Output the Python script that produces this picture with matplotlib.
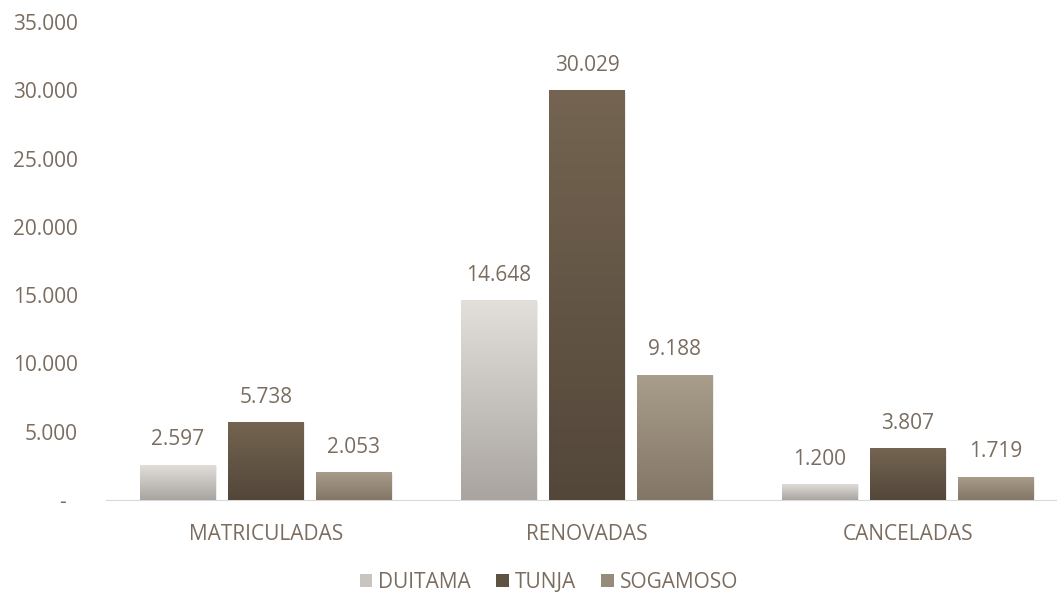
import numpy as np
import matplotlib.pyplot as plt
from matplotlib.colors import LinearSegmentedColormap
from matplotlib.patches import Patch
from matplotlib.ticker import FuncFormatter

categories = ['MATRICULADAS', 'RENOVADAS', 'CANCELADAS']
series = ['DUITAMA', 'TUNJA', 'SOGAMOSO']
duitama = [2597, 14648, 1200]
tunja = [5738, 30029, 3807]
sogamoso = [2053, 9188, 1719]
yticks = [0, 5000, 10000, 15000, 20000, 25000, 30000, 35000]

# top / bottom gradient colours per series
grad = {
    'DUITAMA': ('#E3E0DC', '#A9A4A0'),
    'TUNJA': ('#746451', '#53473A'),
    'SOGAMOSO': ('#A99D8C', '#837666'),
}
txt = '#7A6D60'
fs = 15

plt.rcParams['font.family'] = ['Open Sans', 'DejaVu Sans']

fig = plt.figure(figsize=(10.57, 5.95), dpi=100)
ax = fig.add_axes([105.5 / 1057, 95 / 595, 963 / 1057, 478 / 595])

x = np.arange(len(categories))
width = 0.234
offs = [-0.274, 0, 0.274]
values = [duitama, tunja, sogamoso]

for name, vals, off in zip(series, values, offs):
    top, bot = grad[name]
    cmap = LinearSegmentedColormap.from_list(name, [bot, top])
    bars = ax.bar(x + off, vals, width, color='none', edgecolor='none')
    for b, v in zip(bars, vals):
        x0 = b.get_x()
        # soft shadow
        ax.bar(x0 + width / 2 + 0.004, v, width, bottom=-120,
               color='#000000', alpha=0.07, zorder=1, linewidth=0)
        im = ax.imshow(np.linspace(0, 1, 256).reshape(-1, 1), cmap=cmap,
                       origin='lower', aspect='auto',
                       extent=[x0, x0 + width, 0, v], zorder=2)
        im.set_clip_path(b)
        ax.text(b.get_x() + width / 2, v + 1800, f'{v:,}'.replace(',', '.'),
                ha='center', va='center', fontsize=fs, color=txt)

ax.set_xlim(-0.5, 2.5)
ax.set_ylim(0, 35000)
ax.set_yticks(yticks)
ax.yaxis.set_major_formatter(FuncFormatter(
    lambda v, p: '-  ' if v == 0 else f'{int(v):,}'.replace(',', '.')))
ax.set_xticks(x)
ax.set_xticklabels(categories)
ax.tick_params(axis='both', length=0, colors=txt, labelsize=fs)
ax.tick_params(axis='x', pad=17)
ax.tick_params(axis='y', pad=20)
for s in ['top', 'right', 'left']:
    ax.spines[s].set_visible(False)
ax.spines['bottom'].set_color('#D9D9D9')
ax.spines['bottom'].set_zorder(0)

handles = [Patch(facecolor=c, edgecolor='none')
           for c in ['#C8C4C0', '#5E5242', '#978B7B']]
leg = fig.legend(handles, series, loc='center', bbox_to_anchor=(549 / 1057, 1 - 582 / 595),
                 ncol=3, frameon=False, fontsize=fs, handlelength=0.6, handleheight=0.6,
                 columnspacing=1.2, handletextpad=0.3, borderpad=0.2)
for t in leg.get_texts():
    t.set_color(txt)

fig.savefig('out.png', dpi=100)
